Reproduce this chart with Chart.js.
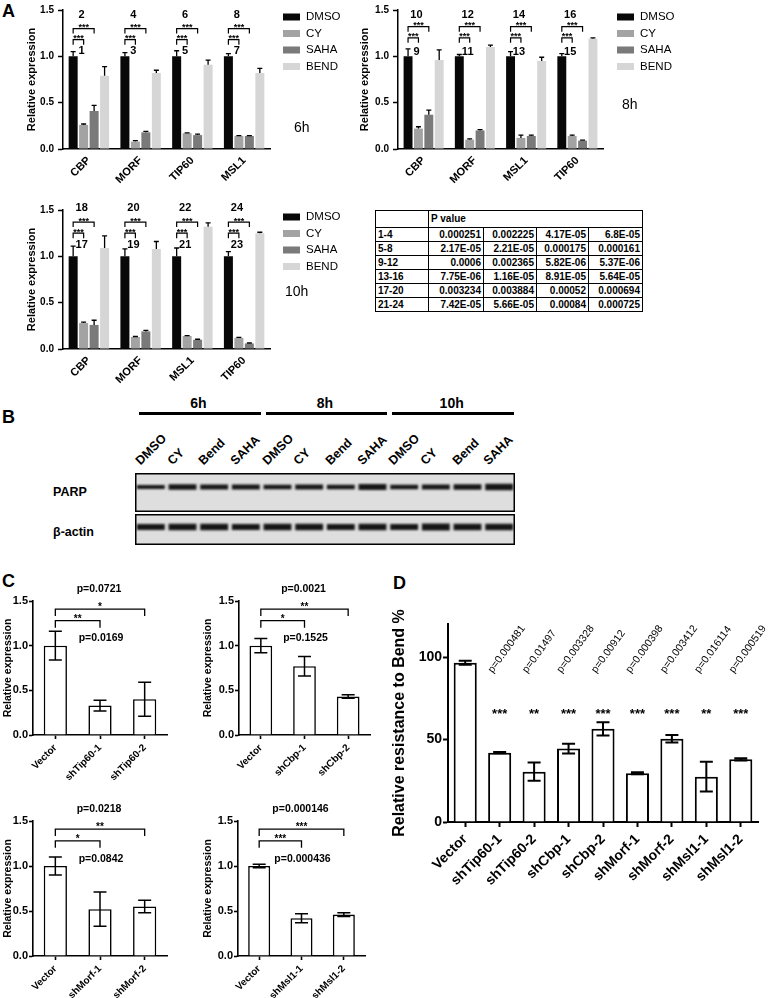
<!DOCTYPE html>
<html lang="en">
<head>
<meta charset="UTF-8">
<title>HAT expression, PARP blot and knockdown resistance</title>
<script src="https://cdn.jsdelivr.net/npm/chart.js"></script>
<style>
  body { margin: 0; background: #fff; font-family: "Liberation Sans", Arial, Helvetica, sans-serif; }
  #fig { position: relative; width: 770px; height: 998px; overflow: hidden; background: #fff; }
  .txt { position: absolute; color: #000; white-space: nowrap; font-weight: bold; line-height: 1; }
  .panel { font-size: 18px; }
  .rule { position: absolute; height: 3px; background: #000; }
  #ptab { position: absolute; left: 375px; top: 210px; border-collapse: collapse; font-size: 10px; font-weight: bold; }
  #ptab td { border: 1px solid #000; height: 13px; padding: 0 2px; text-align: right; line-height: 12px; }
  #ptab td.rl { text-align: left; }
</style>
</head>
<body>
<div id="fig">
  <div class="txt panel" style="left:2px;top:2px">A</div>
  <div class="txt panel" style="left:2px;top:408px">B</div>
  <div class="txt panel" style="left:2px;top:572px">C</div>
  <div class="txt panel" style="left:393px;top:574px">D</div>
  <table id="ptab"></table>
</div>

<script>
const FONT = '"Liberation Sans", Arial, Helvetica, sans-serif';

// ---- A: relative expression after 6h / 8h / 10h (rows = treatments, cols = genes)
const treatments = ['DMSO', 'CY', 'SAHA', 'BEND'];
const genes6h = ['CBP', 'MORF', 'TIP60', 'MSL1'];
const genes8h = ['CBP', 'MORF', 'MSL1', 'TIP60'];
const genes10h = ['CBP', 'MORF', 'MSL1', 'TIP60'];
const mean6h = [[1.00, 1.00, 1.00, 1.00], [0.26, 0.08, 0.17, 0.14], [0.41, 0.18, 0.15, 0.14], [0.79, 0.82, 0.91, 0.82]];
const sd6h = [[0.05, 0.04, 0.06, 0.03], [0.01, 0.01, 0.005, 0.005], [0.06, 0.01, 0.01, 0.005], [0.10, 0.03, 0.05, 0.05]];
const mean8h = [[1.00, 1.00, 1.00, 1.00], [0.22, 0.10, 0.12, 0.14], [0.37, 0.20, 0.14, 0.09], [0.96, 1.10, 0.95, 1.19]];
const sd8h = [[0.08, 0.02, 0.05, 0.03], [0.02, 0.01, 0.03, 0.01], [0.05, 0.01, 0.01, 0.005], [0.11, 0.02, 0.04, 0.01]];
const mean10h = [[1.00, 1.00, 1.00, 1.00], [0.28, 0.13, 0.14, 0.12], [0.26, 0.19, 0.10, 0.06], [1.09, 1.08, 1.32, 1.25]];
const sd10h = [[0.11, 0.08, 0.09, 0.05], [0.01, 0.005, 0.005, 0.005], [0.05, 0.01, 0.005, 0.005], [0.13, 0.08, 0.04, 0.01]];
const pairNums6h = [['2', '1'], ['4', '3'], ['6', '5'], ['8', '7']];
const pairNums8h = [['10', '9'], ['12', '11'], ['14', '13'], ['16', '15']];
const pairNums10h = [['18', '17'], ['20', '19'], ['22', '21'], ['24', '23']];

// P value table
const pRowLabels = ['1-4', '5-8', '9-12', '13-16', '17-20', '21-24'];
const pValues = [
  ['0.000251', '0.002225', '4.17E-05', '6.8E-05'],
  ['2.17E-05', '2.21E-05', '0.000175', '0.000161'],
  ['0.0006', '0.002365', '5.82E-06', '5.37E-06'],
  ['7.75E-06', '1.16E-05', '8.91E-05', '5.64E-05'],
  ['0.003234', '0.003884', '0.00052', '0.000694'],
  ['7.42E-05', '5.66E-05', '0.00084', '0.000725']
];

// ---- B: western blot, band thickness per lane
const blotTimes = ['6h', '8h', '10h'];
const blotLanes = ['DMSO', 'CY', 'Bend', 'SAHA', 'DMSO', 'CY', 'Bend', 'SAHA', 'DMSO', 'CY', 'Bend', 'SAHA'];
const parpBand = [4, 5.5, 5, 5, 4.5, 5, 4.5, 6, 4.5, 5, 5.5, 6.5];
const actinBand = [6, 6.5, 6.5, 6, 6.5, 6.5, 6, 6.5, 6, 7, 6.5, 6.5];

// ---- C: knockdown efficiency
const tipLabels = ['Vector', 'shTip60-1', 'shTip60-2'];
const tipMean = [1.00, 0.33, 0.40];
const tipSd = [0.16, 0.06, 0.19];
const cbpLabels = ['Vector', 'shCbp-1', 'shCbp-2'];
const cbpMean = [1.00, 0.77, 0.43];
const cbpSd = [0.08, 0.11, 0.02];
const morfLabels = ['Vector', 'shMorf-1', 'shMorf-2'];
const morfMean = [1.00, 0.52, 0.55];
const morfSd = [0.10, 0.19, 0.07];
const mslLabels = ['Vector', 'shMsl1-1', 'shMsl1-2'];
const mslMean = [1.00, 0.42, 0.46];
const mslSd = [0.02, 0.05, 0.02];

// ---- D: resistance to bendamustine
const resistLabels = ['Vector', 'shTip60-1', 'shTip60-2', 'shCbp-1', 'shCbp-2', 'shMorf-1', 'shMorf-2', 'shMsl1-1', 'shMsl1-2'];
const resistMean = [96.5, 42, 30.5, 44.5, 56.5, 29.5, 50.5, 27.5, 38];
const resistSd = [1.2, 0.4, 5.5, 3, 4, 0.6, 2.3, 9, 0.7];
const resistStars = ['', '***', '**', '***', '***', '***', '***', '**', '***'];
const resistP = ['', 'p=0.000481', 'p=0.01497', 'p=0.003328', 'p=0.00912', 'p=0.000398', 'p=0.003412', 'p=0.016114', 'p=0.000519'];

const treatColors = ['#080808', '#a3a3a3', '#7a7a7a', '#d6d6d6'];

Chart.defaults.font.family = FONT;
Chart.defaults.color = '#000';

const fig = document.getElementById('fig');

function place(id, b) {
  const c = document.createElement('canvas');
  c.id = id;
  c.width = b.w;
  c.height = b.h;
  c.style.cssText = `position:absolute;left:${b.x}px;top:${b.y}px;width:${b.w}px;height:${b.h}px`;
  fig.appendChild(c);
  return c;
}

function addText(txt, x, y, size, extra) {
  const d = document.createElement('div');
  d.className = 'txt';
  d.textContent = txt;
  d.style.left = x + 'px';
  d.style.top = y + 'px';
  d.style.fontSize = size + 'px';
  if (extra) Object.assign(d.style, extra);
  fig.appendChild(d);
  return d;
}

function bracket(ctx, x1, x2, y, drop) {
  ctx.beginPath();
  ctx.moveTo(x1, y + drop);
  ctx.lineTo(x1, y);
  ctx.lineTo(x2, y);
  ctx.lineTo(x2, y + drop);
  ctx.stroke();
}

function yAxis(o) {
  return {
    min: 0,
    max: o.max,
    afterFit: s => { s.width = o.width; },
    afterBuildTicks: o.keep ? s => { s.ticks = s.ticks.filter(t => o.keep(t.value)); } : undefined,
    border: { display: true, color: '#000', width: o.line },
    grid: { display: true, drawOnChartArea: false, drawTicks: true, tickLength: o.tick, tickWidth: o.line, tickColor: '#000' },
    ticks: { stepSize: o.step, padding: o.pad, color: '#000', font: { size: o.tickFont, weight: 'bold' }, callback: o.fmt },
    title: { display: true, text: o.title, color: '#000', font: { size: o.titleFont, weight: 'bold' }, padding: { top: o.titlePad, bottom: 0 } }
  };
}

function xAxis(o) {
  return {
    afterFit: s => { s.height = o.height; },
    border: { display: true, color: '#000', width: o.line },
    grid: { display: o.tick > 0, drawOnChartArea: false, drawTicks: o.tick > 0, tickLength: o.tick, tickWidth: o.line, tickColor: '#000', offset: false },
    ticks: { autoSkip: false, minRotation: 45, maxRotation: 45, padding: o.pad, color: '#000', font: { size: o.font, weight: 'bold' } }
  };
}

const baseOpts = { responsive: false, animation: false, devicePixelRatio: 1, events: [] };
const quiet = { legend: { display: false }, tooltip: { enabled: false } };

// error bars: 'up' = mean + SD only, 'both' = mean +/- SD
const errBars = {
  id: 'errBars',
  afterDatasetsDraw(chart, args, o) {
    const ctx = chart.ctx, y = chart.scales.y;
    ctx.save();
    ctx.strokeStyle = '#000';
    ctx.lineWidth = o.width;
    chart.data.datasets.forEach((ds, k) => {
      if (!ds.errors) return;
      chart.getDatasetMeta(k).data.forEach((bar, i) => {
        const v = ds.data[i], e = ds.errors[i], h = o.cap / 2;
        const yt = y.getPixelForValue(v + e);
        const yb = ds.errMode === 'both' ? y.getPixelForValue(v - e) : bar.y;
        ctx.beginPath();
        ctx.moveTo(bar.x, yb); ctx.lineTo(bar.x, yt);
        ctx.moveTo(bar.x - h, yt); ctx.lineTo(bar.x + h, yt);
        if (ds.errMode === 'both') { ctx.moveTo(bar.x - h, yb); ctx.lineTo(bar.x + h, yb); }
        ctx.stroke();
      });
    });
    ctx.restore();
  }
};

// A: comparison brackets, numbers, legend and time tag
const pairMarks = {
  id: 'pairMarks',
  afterDraw(chart, args, o) {
    if (!o.nums) return;
    const ctx = chart.ctx, y = chart.scales.y;
    const m = [0, 1, 2].map(k => chart.getDatasetMeta(k).data);
    ctx.save();
    ctx.strokeStyle = '#000';
    ctx.fillStyle = '#000';
    ctx.lineWidth = 1.2;
    o.nums.forEach((pair, i) => {
      const xa = m[0][i].x, xb = m[1][i].x, xc = m[2][i].x;
      const yo = y.getPixelForValue(o.outer), yi = y.getPixelForValue(o.inner);
      bracket(ctx, xa, xc, yo, 5);
      bracket(ctx, xa, xb, yi, 5);
      ctx.textAlign = 'center';
      ctx.textBaseline = 'alphabetic';
      ctx.font = `bold 9px ${FONT}`;
      ctx.fillText('***', (xa + xc) / 2, yo + 1.5);
      ctx.fillText('***', (xa + xb) / 2, yi + 1.5);
      ctx.textBaseline = 'middle';
      ctx.font = `bold 11px ${FONT}`;
      ctx.fillText(pair[0], xb - 2, y.getPixelForValue(o.top));
      ctx.fillText(pair[1], xb - 2, y.getPixelForValue(o.bottom));
    });
    ctx.textAlign = 'left';
    ctx.textBaseline = 'middle';
    ctx.font = `11.5px ${FONT}`;
    chart.data.datasets.forEach((ds, k) => {
      const ly = o.legend.y + k * o.legend.step;
      ctx.fillStyle = ds.backgroundColor;
      ctx.fillRect(o.legend.x, ly - 3.5, 17, 7);
      ctx.fillStyle = '#000';
      ctx.fillText(ds.label, o.legend.x + 23, ly);
    });
    ctx.font = `14px ${FONT}`;
    ctx.fillText(o.tag.text, o.tag.x, o.tag.y);
    ctx.restore();
  }
};

function exprChart(id, box, area, genes, mean, sd, marks) {
  return new Chart(place(id, box), {
    type: 'bar',
    data: {
      labels: genes,
      datasets: treatments.map((t, k) => ({
        label: t,
        data: mean[k],
        errors: sd[k],
        errMode: 'up',
        backgroundColor: treatColors[k],
        borderWidth: 0,
        barPercentage: 0.86,
        categoryPercentage: 0.81
      }))
    },
    options: {
      ...baseOpts,
      layout: { padding: { left: 0, top: area.top, right: box.w - area.right, bottom: 0 } },
      scales: {
        x: xAxis({ height: box.h - area.bottom, line: 1.5, tick: 0, pad: 5, font: 11 }),
        y: yAxis({ width: area.left, max: 1.5, step: 0.5, line: 1.5, tick: 5, pad: 4, tickFont: 10,
                   fmt: v => v.toFixed(1), title: 'Relative expression', titleFont: 11, titlePad: area.titleX - 6.6 })
      },
      plugins: { ...quiet, errBars: { cap: 5, width: 1.3 }, pairMarks: marks }
    },
    plugins: [errBars, pairMarks]
  });
}

exprChart('a6h', { x: 0, y: 0, w: 385, h: 195 }, { left: 63, right: 270, top: 9, bottom: 149, titleX: 32 },
  genes6h, mean6h, sd6h,
  { nums: pairNums6h, top: 1.45, outer: 1.30, inner: 1.18, bottom: 1.06,
    legend: { x: 283, y: 17, step: 16.5 }, tag: { text: '6h', x: 294, y: 128 } });

exprChart('a8h', { x: 345, y: 0, w: 425, h: 195 }, { left: 53, right: 258, top: 9, bottom: 149, titleX: 20 },
  genes8h, mean8h, sd8h,
  { nums: pairNums8h, top: 1.45, outer: 1.32, inner: 1.20, bottom: 1.05,
    legend: { x: 272, y: 17, step: 16.5 }, tag: { text: '8h', x: 277, y: 105 } });

exprChart('a10h', { x: 0, y: 200, w: 385, h: 195 }, { left: 63, right: 270, top: 9, bottom: 149, titleX: 32 },
  genes10h, mean10h, sd10h,
  { nums: pairNums10h, top: 1.52, outer: 1.37, inner: 1.25, bottom: 1.125,
    legend: { x: 283, y: 17, step: 16.5 }, tag: { text: '10h', x: 285, y: 92 } });

// P value table
const tab = document.getElementById('ptab');
const colW = [53, 55, 53, 52, 54];
let head = '<tr><td class="rl" style="width:' + (colW[0] - 5) + 'px;height:16px"></td><td class="rl" colspan="4" style="height:16px">P value</td></tr>';
pRowLabels.forEach((r, i) => {
  head += '<tr><td class="rl">' + r + '</td>' + pValues[i].map((v, j) => '<td style="width:' + (colW[j + 1] - 5) + 'px">' + v + '</td>').join('') + '</tr>';
});
tab.innerHTML = head;

// ---- B: blot
const blotX = 135, blotW = 380, laneW = blotW / blotLanes.length;
blotTimes.forEach((t, g) => {
  const x0 = blotX + g * 4 * laneW;
  const line = document.createElement('div');
  line.className = 'rule';
  line.style.left = (x0 + 4) + 'px';
  line.style.width = (4 * laneW - 5) + 'px';
  line.style.top = '412px';
  fig.appendChild(line);
  const h = addText(t, x0 + 2 * laneW - 20, 396, 14);
  h.style.width = '40px';
  h.style.textAlign = 'center';
});
blotLanes.forEach((lane, i) => {
  const cx = blotX + (i + 0.5) * laneW;
  addText(lane, cx - 9, 455, 12.5, { transform: 'rotate(-45deg)', transformOrigin: 'left bottom', lineHeight: '12px' });
});
addText('PARP', 53, 486, 12.5);
addText('β-actin', 53, 526, 12.5);

const blotFrame = {
  id: 'blotFrame',
  beforeDraw(chart) {
    const { ctx, width, height } = chart;
    ctx.save();
    ctx.fillStyle = '#dedede';
    ctx.fillRect(0, 0, width, height);
    ctx.restore();
  },
  beforeDatasetsDraw(chart) { chart.ctx.save(); chart.ctx.filter = 'blur(0.8px)'; },
  afterDatasetsDraw(chart) { chart.ctx.restore(); },
  afterDraw(chart) {
    const { ctx, width, height } = chart;
    ctx.save();
    ctx.strokeStyle = '#000';
    ctx.lineWidth = 1.5;
    ctx.strokeRect(0.75, 0.75, width - 1.5, height - 1.5);
    ctx.restore();
  }
};

function blotChart(id, box, thick, center) {
  return new Chart(place(id, box), {
    type: 'bar',
    data: {
      labels: blotLanes,
      datasets: [{
        data: thick.map(t => [center - t / 2, center + t / 2]),
        backgroundColor: '#161616',
        borderWidth: 0,
        barPercentage: 0.88,
        categoryPercentage: 1
      }]
    },
    options: {
      ...baseOpts,
      layout: { padding: 0 },
      scales: { x: { display: false }, y: { display: false, min: 0, max: box.h } },
      plugins: quiet
    },
    plugins: [blotFrame]
  });
}

blotChart('parp', { x: blotX, y: 473, w: blotW, h: 39 }, parpBand, 25);
blotChart('actin', { x: blotX, y: 514, w: blotW, h: 31 }, actinBand, 18);

// ---- C: knockdown bar charts with brackets
const knockMarks = {
  id: 'knockMarks',
  afterDraw(chart, args, o) {
    const ctx = chart.ctx, y = chart.scales.y, bars = chart.getDatasetMeta(0).data;
    const x0 = bars[0].x, x1 = bars[1].x, x2 = bars[2].x;
    ctx.save();
    ctx.strokeStyle = '#000';
    ctx.fillStyle = '#000';
    ctx.lineWidth = 1.3;
    const yo = y.getPixelForValue(1.41), yi = y.getPixelForValue(1.28);
    bracket(ctx, x0, x2, yo, 7);
    bracket(ctx, x0, x1, yi, 7);
    ctx.textAlign = 'center';
    ctx.textBaseline = 'alphabetic';
    ctx.font = `bold 10px ${FONT}`;
    ctx.fillText(o.outerStar, (x0 + x2) / 2, yo + 1);
    ctx.fillText(o.innerStar, (x0 + x1) / 2, yi + 1);
    ctx.textBaseline = 'middle';
    ctx.font = `bold 10.5px ${FONT}`;
    ctx.fillText(o.pTop, x1 - 1, y.getPixelForValue(1.63));
    ctx.fillText(o.pBottom, x1 + 1, y.getPixelForValue(1.08));
    ctx.restore();
  }
};

function knockChart(id, box, area, labels, mean, sd, marks) {
  return new Chart(place(id, box), {
    type: 'bar',
    data: {
      labels: labels,
      datasets: [{
        data: mean,
        errors: sd,
        errMode: 'both',
        backgroundColor: '#fff',
        borderColor: '#000',
        borderWidth: 1.6,
        borderSkipped: 'start',
        barPercentage: 0.52,
        categoryPercentage: 1
      }]
    },
    options: {
      ...baseOpts,
      layout: { padding: { left: 0, top: area.top, right: box.w - area.right, bottom: 0 } },
      scales: {
        x: xAxis({ height: box.h - area.bottom, line: 1.6, tick: 4, pad: 3, font: 10 }),
        y: yAxis({ width: area.left, max: 1.5, step: 0.5, line: 1.6, tick: 4, pad: 1, tickFont: 11,
                   fmt: v => v.toFixed(1), title: 'Relative expression', titleFont: 10.5, titlePad: area.titleX - 6.3 })
      },
      plugins: { ...quiet, errBars: { cap: 13, width: 1.5 }, knockMarks: marks }
    },
    plugins: [errBars, knockMarks]
  });
}

knockChart('cTip', { x: 0, y: 580, w: 195, h: 215 }, { left: 33, right: 167, top: 21, bottom: 155, titleX: 8 },
  tipLabels, tipMean, tipSd, { outerStar: '*', innerStar: '**', pTop: 'p=0.0721', pBottom: 'p=0.0169' });
knockChart('cCbp', { x: 200, y: 580, w: 195, h: 215 }, { left: 39, right: 170, top: 21, bottom: 155, titleX: 8 },
  cbpLabels, cbpMean, cbpSd, { outerStar: '**', innerStar: '*', pTop: 'p=0.0021', pBottom: 'p=0.1525' });
knockChart('cMorf', { x: 0, y: 790, w: 195, h: 208 }, { left: 33, right: 167, top: 31, bottom: 166, titleX: 8 },
  morfLabels, morfMean, morfSd, { outerStar: '**', innerStar: '*', pTop: 'p=0.0218', pBottom: 'p=0.0842' });
knockChart('cMsl', { x: 200, y: 790, w: 195, h: 208 }, { left: 38, right: 165, top: 31, bottom: 166, titleX: 8 },
  mslLabels, mslMean, mslSd, { outerStar: '***', innerStar: '***', pTop: 'p=0.000146', pBottom: 'p=0.000436' });

// ---- D: resistance chart
const resistMarks = {
  id: 'resistMarks',
  afterDraw(chart, args, o) {
    const ctx = chart.ctx, y = chart.scales.y, bars = chart.getDatasetMeta(0).data;
    ctx.save();
    ctx.fillStyle = '#000';
    bars.forEach((bar, i) => {
      if (o.stars[i]) {
        ctx.font = `bold 13px ${FONT}`;
        ctx.textAlign = 'center';
        ctx.textBaseline = 'alphabetic';
        ctx.fillText(o.stars[i], bar.x, y.getPixelForValue(o.starAt));
      }
      if (o.p[i]) {
        ctx.save();
        ctx.translate(bar.x - 7, y.getPixelForValue(o.pAt));
        ctx.rotate(-o.angle * Math.PI / 180);
        ctx.font = `10.5px ${FONT}`;
        ctx.textAlign = 'left';
        ctx.textBaseline = 'alphabetic';
        ctx.fillText(o.p[i], 0, 0);
        ctx.restore();
      }
    });
    ctx.restore();
  }
};

new Chart(place('dRes', { x: 385, y: 560, w: 385, h: 438 }), {
  type: 'bar',
  data: {
    labels: resistLabels,
    datasets: [{
      data: resistMean,
      errors: resistSd,
      errMode: 'both',
      backgroundColor: '#fff',
      borderColor: '#000',
      borderWidth: 2,
      borderSkipped: 'start',
      barPercentage: 0.67,
      categoryPercentage: 1
    }]
  },
  options: {
    ...baseOpts,
    layout: { padding: { left: 0, top: 64, right: 12, bottom: 0 } },
    scales: {
      x: xAxis({ height: 176, line: 2, tick: 5, pad: 4, font: 14 }),
      y: yAxis({ width: 63, max: 120, step: 50, line: 2, tick: 5, pad: 1, tickFont: 14,
                 keep: v => v % 50 === 0, fmt: v => String(v),
                 title: 'Relative resistance to Bend %', titleFont: 16, titlePad: 15 - 9.6 })
    },
    plugins: { ...quiet, errBars: { cap: 13, width: 2 },
               resistMarks: { stars: resistStars, p: resistP, starAt: 63, pAt: 90, angle: 54 } }
  },
  plugins: [errBars, resistMarks]
});
</script>
</body>
</html>
